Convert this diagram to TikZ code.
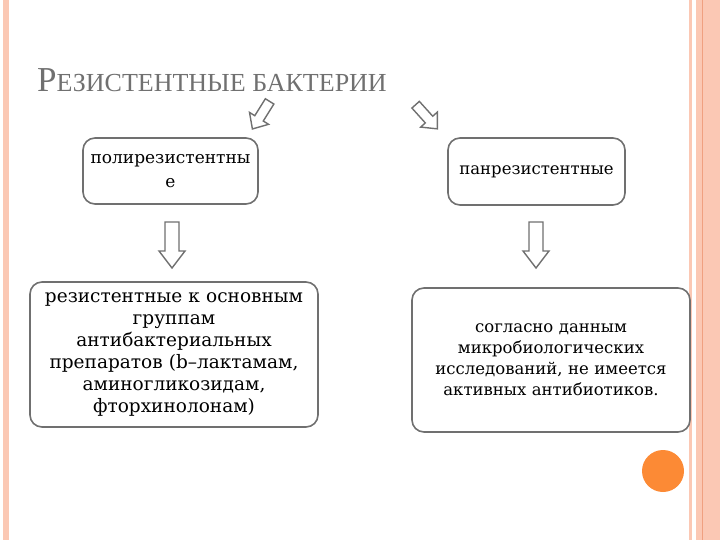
\documentclass[tikz,border=0pt]{standalone}
\usepackage{fontspec}
\setmainfont{DejaVu Serif}
\newfontfamily\titlefont{Liberation Serif}
\definecolor{band}{HTML}{FBC8B4}
\definecolor{bandd}{HTML}{F0A080}
\definecolor{gr}{HTML}{707070}
\definecolor{orng}{HTML}{FC8A35}
\begin{document}
\begin{tikzpicture}[x=1pt,y=-1pt,
  box/.style={draw=gr,line width=1.6pt,rounded corners=12pt,fill=white,align=center,inner sep=2pt,font=\fontsize{18.5}{22}\selectfont},
  blk/.style={draw=gr,line width=1.4pt,fill=white}]
\useasboundingbox (0,0) rectangle (720,540);
\fill[band] (3,0) rectangle (9,540);
\fill[band] (689,0) rectangle (692,540);
\fill[band] (696,0) rectangle (720,540);
\draw[bandd,line width=0.6pt] (702,0) -- (702,540);
\node[anchor=base west,text=gr,inner sep=0] (title) at (37,92) {\titlefont\fontsize{35}{35}\selectfont Р\fontsize{26}{26}\selectfont ЕЗИСТЕНТНЫЕ БАКТЕРИИ};
\node[box,minimum width=175pt,minimum height=66pt,text width=170pt,font=\fontsize{17}{24}\selectfont] (a) at (170.5,171) {полирезистентны\\е};
\node[box,minimum width=177pt,minimum height=67pt,text width=172pt,font=\fontsize{16.5}{22}\selectfont] (b) at (536.5,171.5) {панрезистентные};
\node[box,minimum width=288pt,minimum height=145pt,text width=284pt] (c) at (174,354.5) {резистентные к основным\\группам\\антибактериальных\\препаратов (b–лактамам,\\аминогликозидам,\\фторхинолонам)};
\node[box,minimum width=278pt,minimum height=144pt,text width=270pt,font=\fontsize{16.5}{21}\selectfont] (d) at (551,360) {согласно данным\\микробиологических\\исследований, не имеется\\активных антибиотиков.};
% down block arrows
\foreach \cx/\nm in {172/la,536/ra}{
 \draw[blk] (\cx-7,222) -- (\cx+7,222) -- (\cx+7,251) -- (\cx+13,251) -- (\cx,268) -- (\cx-13,251) -- (\cx-7,251) -- cycle;}
\coordinate (lad) at (172,268); \coordinate (rad) at (536,268);
% diagonal block arrows
\begin{scope}[shift={(263,112)},rotate=-122,scale=1.25]
 \draw[blk] (-10,-4) -- (6,-4) -- (6,-9) -- (16,0) -- (6,9) -- (6,4) -- (-10,4) -- cycle;
\end{scope}
\begin{scope}[shift={(424,114)},rotate=-48,scale=1.25]
 \draw[blk] (-10,-4) -- (6,-4) -- (6,-9) -- (16,0) -- (6,9) -- (6,4) -- (-10,4) -- cycle;
\end{scope}
\fill[orng] (663,471) circle (21);
\end{tikzpicture}
\end{document}
